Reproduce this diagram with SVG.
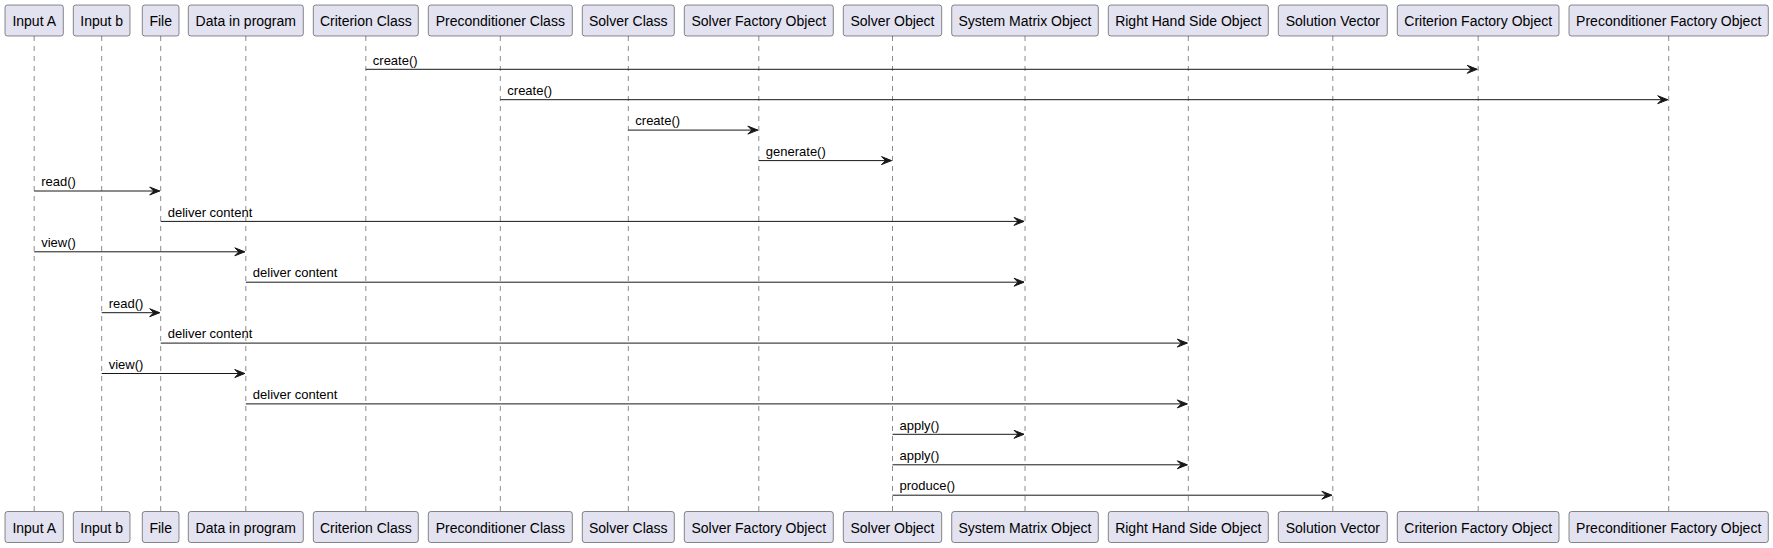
<svg xmlns="http://www.w3.org/2000/svg" width="1773" height="548" viewBox="0 0 1773 548">
<style>
.box{fill:#E2E2F0;stroke:#181818;stroke-width:0.5}
.pt{font-family:"Liberation Sans",Arial,sans-serif;font-size:14px;fill:#000;text-anchor:middle}
.life{stroke:#181818;stroke-width:0.5;stroke-dasharray:5,5;fill:none}
.msg{stroke:#181818;stroke-width:1;fill:none}
.head{fill:#181818;stroke:#181818;stroke-width:1}
.ml{font-family:"Liberation Sans",Arial,sans-serif;font-size:13px;fill:#000}
</style>
<rect width="1773" height="548" fill="#FFFFFF"/>
<g id="lifelines">
<line class="life" x1="34.2" y1="36" x2="34.2" y2="511.5"/>
<line class="life" x1="101.7" y1="36" x2="101.7" y2="511.5"/>
<line class="life" x1="160.7" y1="36" x2="160.7" y2="511.5"/>
<line class="life" x1="245.8" y1="36" x2="245.8" y2="511.5"/>
<line class="life" x1="365.8" y1="36" x2="365.8" y2="511.5"/>
<line class="life" x1="500.3" y1="36" x2="500.3" y2="511.5"/>
<line class="life" x1="628.3" y1="36" x2="628.3" y2="511.5"/>
<line class="life" x1="758.8" y1="36" x2="758.8" y2="511.5"/>
<line class="life" x1="892.5" y1="36" x2="892.5" y2="511.5"/>
<line class="life" x1="1025" y1="36" x2="1025" y2="511.5"/>
<line class="life" x1="1188.3" y1="36" x2="1188.3" y2="511.5"/>
<line class="life" x1="1332.8" y1="36" x2="1332.8" y2="511.5"/>
<line class="life" x1="1478.2" y1="36" x2="1478.2" y2="511.5"/>
<line class="life" x1="1668.7" y1="36" x2="1668.7" y2="511.5"/>
</g>
<g id="p1"><rect class="box" x="5" y="5" width="58.3" height="31" rx="2.5"/><text class="pt" x="34.2" y="26">Input A</text><rect class="box" x="5" y="511.5" width="58.3" height="31" rx="2.5"/><text class="pt" x="34.2" y="532.5">Input A</text></g>
<g id="p2"><rect class="box" x="73.3" y="5" width="56.7" height="31" rx="2.5"/><text class="pt" x="101.7" y="26">Input b</text><rect class="box" x="73.3" y="511.5" width="56.7" height="31" rx="2.5"/><text class="pt" x="101.7" y="532.5">Input b</text></g>
<g id="p3"><rect class="box" x="142.3" y="5" width="36.7" height="31" rx="2.5"/><text class="pt" x="160.7" y="26">File</text><rect class="box" x="142.3" y="511.5" width="36.7" height="31" rx="2.5"/><text class="pt" x="160.7" y="532.5">File</text></g>
<g id="p4"><rect class="box" x="188.3" y="5" width="115" height="31" rx="2.5"/><text class="pt" x="245.8" y="26">Data in program</text><rect class="box" x="188.3" y="511.5" width="115" height="31" rx="2.5"/><text class="pt" x="245.8" y="532.5">Data in program</text></g>
<g id="p5"><rect class="box" x="313.3" y="5" width="105" height="31" rx="2.5"/><text class="pt" x="365.8" y="26">Criterion Class</text><rect class="box" x="313.3" y="511.5" width="105" height="31" rx="2.5"/><text class="pt" x="365.8" y="532.5">Criterion Class</text></g>
<g id="p6"><rect class="box" x="428.3" y="5" width="144" height="31" rx="2.5"/><text class="pt" x="500.3" y="26">Preconditioner Class</text><rect class="box" x="428.3" y="511.5" width="144" height="31" rx="2.5"/><text class="pt" x="500.3" y="532.5">Preconditioner Class</text></g>
<g id="p7"><rect class="box" x="582.3" y="5" width="92" height="31" rx="2.5"/><text class="pt" x="628.3" y="26">Solver Class</text><rect class="box" x="582.3" y="511.5" width="92" height="31" rx="2.5"/><text class="pt" x="628.3" y="532.5">Solver Class</text></g>
<g id="p8"><rect class="box" x="684.3" y="5" width="149" height="31" rx="2.5"/><text class="pt" x="758.8" y="26">Solver Factory Object</text><rect class="box" x="684.3" y="511.5" width="149" height="31" rx="2.5"/><text class="pt" x="758.8" y="532.5">Solver Factory Object</text></g>
<g id="p9"><rect class="box" x="843.3" y="5" width="98.4" height="31" rx="2.5"/><text class="pt" x="892.5" y="26">Solver Object</text><rect class="box" x="843.3" y="511.5" width="98.4" height="31" rx="2.5"/><text class="pt" x="892.5" y="532.5">Solver Object</text></g>
<g id="p10"><rect class="box" x="951.7" y="5" width="146.6" height="31" rx="2.5"/><text class="pt" x="1025" y="26">System Matrix Object</text><rect class="box" x="951.7" y="511.5" width="146.6" height="31" rx="2.5"/><text class="pt" x="1025" y="532.5">System Matrix Object</text></g>
<g id="p11"><rect class="box" x="1108.3" y="5" width="160" height="31" rx="2.5"/><text class="pt" x="1188.3" y="26">Right Hand Side Object</text><rect class="box" x="1108.3" y="511.5" width="160" height="31" rx="2.5"/><text class="pt" x="1188.3" y="532.5">Right Hand Side Object</text></g>
<g id="p12"><rect class="box" x="1278.3" y="5" width="109" height="31" rx="2.5"/><text class="pt" x="1332.8" y="26">Solution Vector</text><rect class="box" x="1278.3" y="511.5" width="109" height="31" rx="2.5"/><text class="pt" x="1332.8" y="532.5">Solution Vector</text></g>
<g id="p13"><rect class="box" x="1397.3" y="5" width="161.7" height="31" rx="2.5"/><text class="pt" x="1478.2" y="26">Criterion Factory Object</text><rect class="box" x="1397.3" y="511.5" width="161.7" height="31" rx="2.5"/><text class="pt" x="1478.2" y="532.5">Criterion Factory Object</text></g>
<g id="p14"><rect class="box" x="1569" y="5" width="199.3" height="31" rx="2.5"/><text class="pt" x="1668.7" y="26">Preconditioner Factory Object</text><rect class="box" x="1569" y="511.5" width="199.3" height="31" rx="2.5"/><text class="pt" x="1668.7" y="532.5">Preconditioner Factory Object</text></g>
<g id="connectors">
<line class="msg" x1="365.8" y1="69.3" x2="1477.2" y2="69.3"/><polygon class="head" points="1467.2,65.3 1477.2,69.3 1467.2,73.3 1471.2,69.3"/><text class="ml" x="372.8" y="64.5">create()</text>
<line class="msg" x1="500.3" y1="99.7" x2="1667.7" y2="99.7"/><polygon class="head" points="1657.7,95.7 1667.7,99.7 1657.7,103.7 1661.7,99.7"/><text class="ml" x="507.3" y="94.9">create()</text>
<line class="msg" x1="628.3" y1="130.1" x2="757.8" y2="130.1"/><polygon class="head" points="747.8,126.1 757.8,130.1 747.8,134.1 751.8,130.1"/><text class="ml" x="635.3" y="125.3">create()</text>
<line class="msg" x1="758.8" y1="160.6" x2="891.5" y2="160.6"/><polygon class="head" points="881.5,156.6 891.5,160.6 881.5,164.6 885.5,160.6"/><text class="ml" x="765.8" y="155.8">generate()</text>
<line class="msg" x1="34.2" y1="191" x2="159.7" y2="191"/><polygon class="head" points="149.7,187 159.7,191 149.7,195 153.7,191"/><text class="ml" x="41.2" y="186.2">read()</text>
<line class="msg" x1="160.7" y1="221.4" x2="1024" y2="221.4"/><polygon class="head" points="1014,217.4 1024,221.4 1014,225.4 1018,221.4"/><text class="ml" x="167.7" y="216.6">deliver content</text>
<line class="msg" x1="34.2" y1="251.8" x2="244.8" y2="251.8"/><polygon class="head" points="234.8,247.8 244.8,251.8 234.8,255.8 238.8,251.8"/><text class="ml" x="41.2" y="247">view()</text>
<line class="msg" x1="245.8" y1="282.2" x2="1024" y2="282.2"/><polygon class="head" points="1014,278.2 1024,282.2 1014,286.2 1018,282.2"/><text class="ml" x="252.8" y="277.4">deliver content</text>
<line class="msg" x1="101.7" y1="312.7" x2="159.7" y2="312.7"/><polygon class="head" points="149.7,308.7 159.7,312.7 149.7,316.7 153.7,312.7"/><text class="ml" x="108.7" y="307.9">read()</text>
<line class="msg" x1="160.7" y1="343.1" x2="1187.3" y2="343.1"/><polygon class="head" points="1177.3,339.1 1187.3,343.1 1177.3,347.1 1181.3,343.1"/><text class="ml" x="167.7" y="338.3">deliver content</text>
<line class="msg" x1="101.7" y1="373.5" x2="244.8" y2="373.5"/><polygon class="head" points="234.8,369.5 244.8,373.5 234.8,377.5 238.8,373.5"/><text class="ml" x="108.7" y="368.7">view()</text>
<line class="msg" x1="245.8" y1="403.9" x2="1187.3" y2="403.9"/><polygon class="head" points="1177.3,399.9 1187.3,403.9 1177.3,407.9 1181.3,403.9"/><text class="ml" x="252.8" y="399.1">deliver content</text>
<line class="msg" x1="892.5" y1="434.3" x2="1024" y2="434.3"/><polygon class="head" points="1014,430.3 1024,434.3 1014,438.3 1018,434.3"/><text class="ml" x="899.5" y="429.5">apply()</text>
<line class="msg" x1="892.5" y1="464.8" x2="1187.3" y2="464.8"/><polygon class="head" points="1177.3,460.8 1187.3,464.8 1177.3,468.8 1181.3,464.8"/><text class="ml" x="899.5" y="460">apply()</text>
<line class="msg" x1="892.5" y1="495.2" x2="1331.8" y2="495.2"/><polygon class="head" points="1321.8,491.2 1331.8,495.2 1321.8,499.2 1325.8,495.2"/><text class="ml" x="899.5" y="490.4">produce()</text>
</g>
</svg>
